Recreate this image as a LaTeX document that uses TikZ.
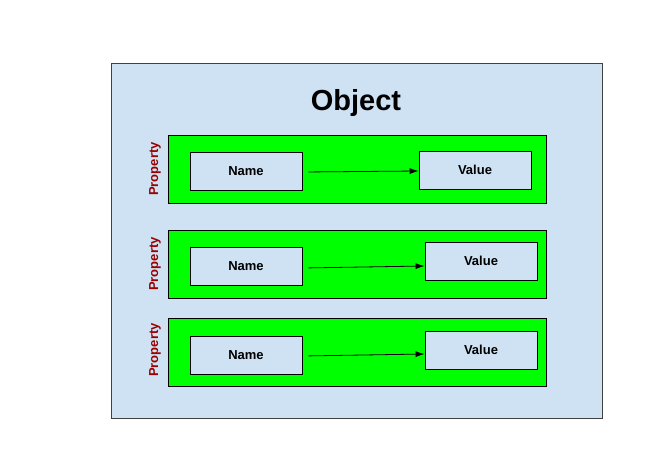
\documentclass[tikz,border=0pt]{standalone}
\usepackage{fontspec}
\setmainfont{Liberation Sans}
\usetikzlibrary{arrows.meta}
\definecolor{objblue}{HTML}{CFE2F3}
\definecolor{propgreen}{HTML}{00FF00}
\definecolor{propred}{HTML}{990000}
\begin{document}
\begin{tikzpicture}[x=1pt,y=-1pt,line width=0.8pt]
        \useasboundingbox (0,0) rectangle (650,458);

        \node[draw=black!75,fill=objblue,minimum width=491pt,minimum height=355pt,inner sep=0pt] (obj) at (356.5,240.5) {};
        \node[font=\bfseries\fontsize{29}{32}\selectfont] (title) at (356,103) {Object};

        \begin{scope}[every node/.style={draw,fill=propgreen,minimum width=378pt,minimum height=68pt,inner sep=0pt}]
          \node (p1) at (357,169) {};
          \node (p2) at (357,264) {};
          \node (p3) at (357,352) {};
        \end{scope}

        \begin{scope}[every node/.style={rotate=90,text=propred,font=\bfseries\fontsize{13}{15}\selectfont}]
          \node (l1) at (155,169) {Property};
          \node (l2) at (155,264) {Property};
          \node (l3) at (155,350) {Property};
        \end{scope}

        \begin{scope}[every node/.style={draw,fill=objblue,minimum width=112pt,minimum height=38pt,inner sep=0pt,font=\bfseries\fontsize{13}{15}\selectfont}]
          \node (n1) at (246,171) {Name};
          \node (n2) at (246,266) {Name};
          \node (n3) at (246,355) {Name};
          \node (v1) at (475,170) {Value};
          \node (v2) at (481,261) {Value};
          \node (v3) at (481,350) {Value};
        \end{scope}

        \begin{scope}[every edge/.style={draw,-{Latex[length=9pt,width=6pt]},shorten <=6pt}]
          \path ([yshift=-1pt]n1.east) edge ([yshift=-1pt]v1.west);
          \path ([yshift=-2pt]n2.east) edge ([yshift=-5pt]v2.west);
          \path ([yshift=-1pt]n3.east) edge ([yshift=-4pt]v3.west);
        \end{scope}

      \end{tikzpicture}
\end{document}
